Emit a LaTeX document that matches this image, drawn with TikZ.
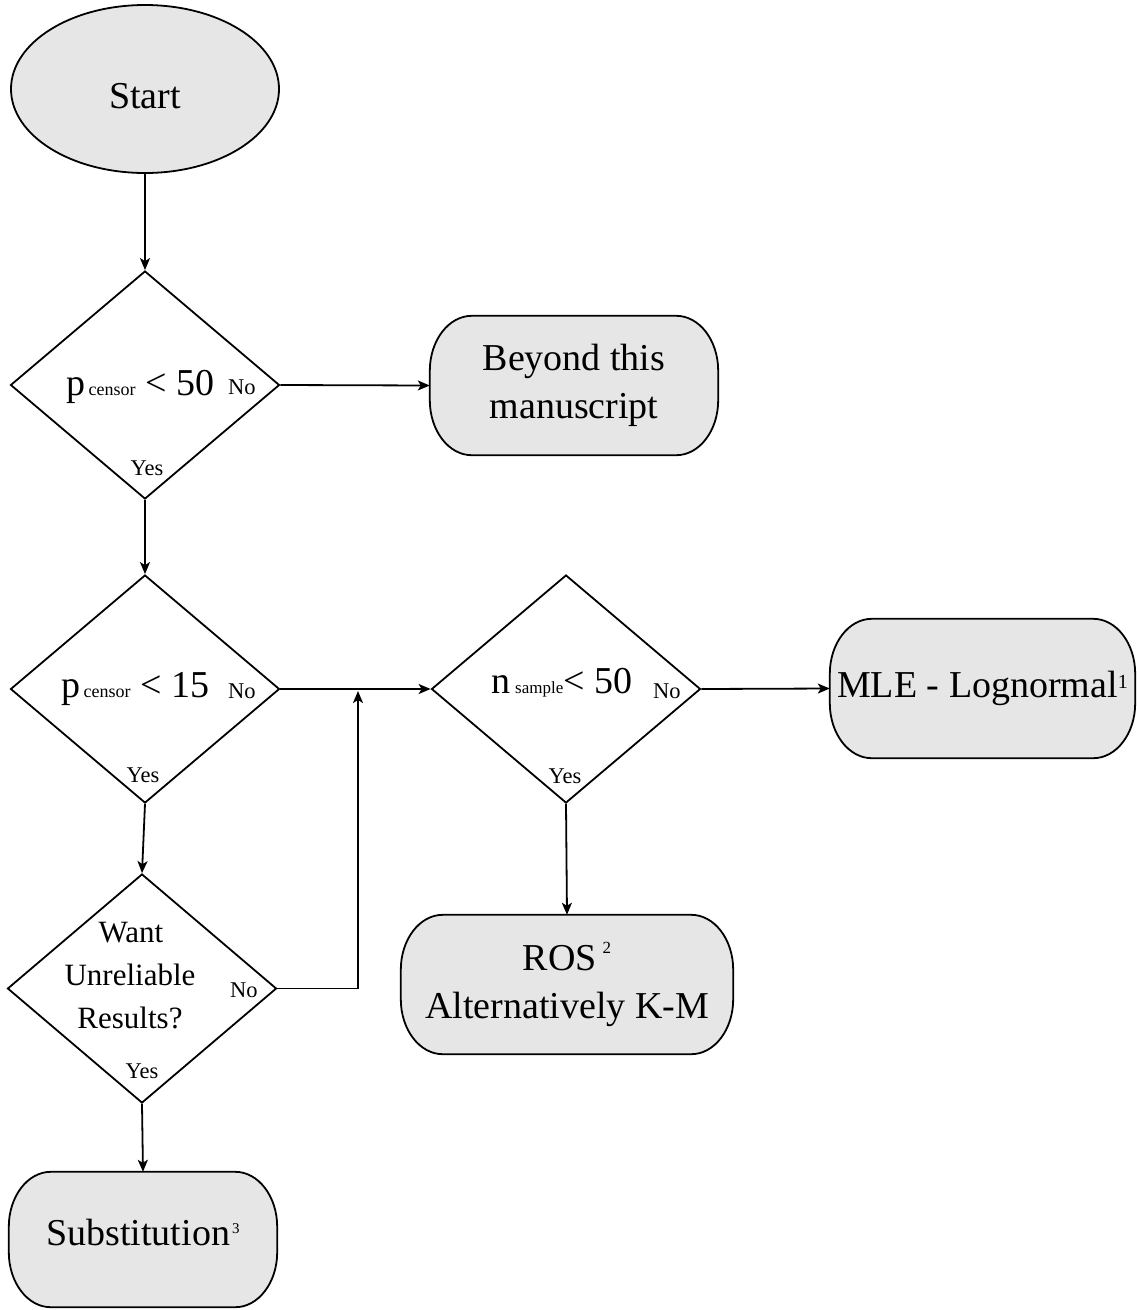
\documentclass[tikz,border=0pt]{standalone}
\usepackage{fontspec}
\setmainfont{Liberation Serif}
\usetikzlibrary{shapes.geometric,arrows.meta,backgrounds,calc}
\definecolor{boxfill}{RGB}{230,230,230}
\newcommand\bigtext{\fontsize{38}{48}\selectfont}
\newcommand\labtext{\fontsize{22.5}{26}\selectfont}
\newcommand\subtext{\fontsize{18}{20}\selectfont}
\newcommand\wanttext{\fontsize{31}{43}\selectfont}
\newcommand\termoutline[1]{%
  \draw[termline] ([xshift=42pt]#1.north west) -- ([xshift=-42pt]#1.north east)
    arc[start angle=90,end angle=0,x radius=42pt,y radius=55pt]
    -- ([yshift=55pt]#1.south east)
    arc[start angle=0,end angle=-90,x radius=42pt,y radius=55pt]
    -- ([xshift=42pt]#1.south west)
    arc[start angle=270,end angle=180,x radius=42pt,y radius=55pt]
    -- ([yshift=-55pt]#1.north west)
    arc[start angle=180,end angle=90,x radius=42pt,y radius=55pt]
    -- cycle;}
\tikzset{
  conn/.style={line width=1.8pt},
  arr/.style={conn, -{Stealth[length=12pt,width=10pt,inset=3pt]}},
  decision/.style={diamond, draw, line width=1.8pt, fill=white, inner sep=0pt,
    minimum width=269pt, minimum height=228pt},
  startnode/.style={ellipse, draw, line width=1.8pt, fill=boxfill, inner sep=0pt,
    minimum width=268pt, minimum height=168pt, font=\bigtext},
  termbox/.style={rectangle, inner sep=0pt, minimum height=139pt, align=center, font=\bigtext},
  termline/.style={draw, line width=1.8pt, fill=boxfill},
  cond/.style={font=\bigtext, inner sep=0pt, anchor=base west},
  yesno/.style={font=\labtext, inner sep=0pt},
  wantline/.style={font=\wanttext, inner sep=0pt, anchor=base},
}
\begin{document}
\begin{tikzpicture}[x=1pt,y=1pt]
\useasboundingbox (0,0) rectangle (1136,-1310);

% shapes
\node[startnode] (start) at (145,-89) {\raisebox{0pt}[38pt][0pt]{Start}};
\node[decision] (d1) at (145,-385) {};
\node[termbox, minimum width=288pt] (beyond) at (574,-385.5) {Beyond this\\manuscript};
\node[decision] (d2) at (145,-689) {};
\node[decision] (d3) at (566,-689) {};
\node[termbox, minimum width=305pt] (mle) at (982.5,-688.5)
  {MLE - Lognormal\raisebox{9pt}{\fontsize{20}{20}\selectfont 1}};
\node[decision, minimum height=229pt] (d4) at (142,-988.5) {};
\node[termbox, minimum width=332pt] (ros) at (567,-984.5)
  {ROS\hspace{6pt}\raisebox{17pt}{\fontsize{17}{17}\selectfont 2}\\Alternatively K-M};
\node[termbox, minimum width=268pt, minimum height=135pt] (subst) at (143,-1239.5)
  {\raisebox{0pt}[26pt][15pt]{Substitution\hspace{2pt}\raisebox{12pt}{\fontsize{15}{15}\selectfont 3}}};

\begin{scope}[on background layer]
  \termoutline{beyond}
  \termoutline{mle}
  \termoutline{ros}
  \termoutline{subst}
\end{scope}

% decision texts
\node[cond] (d1t) at (66,-395) {p\hspace{3.5pt}{\subtext censor}\ <\ 50};
\node[yesno, anchor=base west] (d1no) at (228,-394) {No};
\node[yesno, anchor=base] (d1yes) at (147,-475) {Yes};

\node[cond] (d2t) at (61,-697) {p\hspace{3.5pt}{\subtext censor}\ <\ 15};
\node[yesno, anchor=base west] (d2no) at (228,-698) {No};
\node[yesno, anchor=base] (d2yes) at (143,-782) {Yes};

\node[cond] (d3t) at (491,-693) {n\hspace{5pt}{\fontsize{17}{17}\selectfont sample}<\ 50};
\node[yesno, anchor=base west] (d3no) at (653,-698) {No};
\node[yesno, anchor=base] (d3yes) at (565,-783) {Yes};

\node[wantline] (d4a) at (131,-942) {Want};
\node[wantline] (d4b) at (130,-985) {Unreliable};
\node[wantline] (d4c) at (130,-1028) {Results?};
\node[yesno, anchor=base west] (d4no) at (230,-997) {No};
\node[yesno, anchor=base] (d4yes) at (142,-1078) {Yes};

% connectors
\coordinate (join) at (358,-691);
\draw[arr] (start.south) -- (d1.north);
\draw[arr] (d1.east) -- (beyond.west);
\draw[arr] (d1.south) -- (d2.north);
\draw[arr] (d2.east) -- (d3.west);
\draw[arr] (d2.south) -- (d4.north);
\draw[arr] (d4.east) -| (join);
\draw[arr] (d4.south) -- (subst.north);
\draw[arr] (d3.east) -- (mle.west);
\draw[arr] (d3.south) -- (ros.north);
\end{tikzpicture}
\end{document}
